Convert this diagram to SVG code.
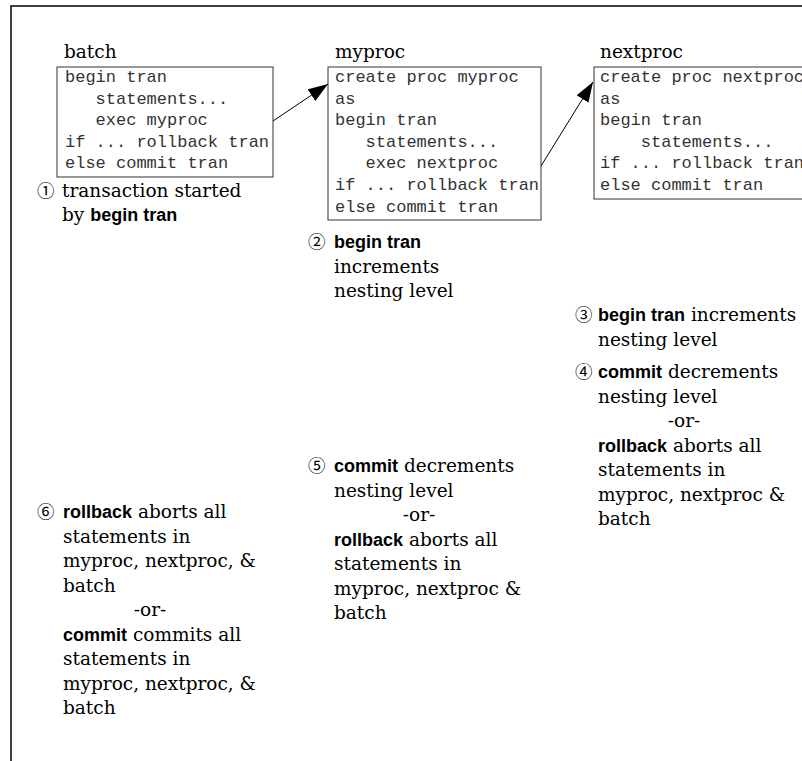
<svg xmlns="http://www.w3.org/2000/svg" width="802" height="761" viewBox="0 0 802 761">
<style>
.frame{fill:none;stroke:#000;stroke-width:1.5}
.box{fill:#fff;stroke:#333;stroke-width:1}
.title{font-family:"DejaVu Serif","Liberation Serif",serif;font-size:18.5px;fill:#000}
.code{font-family:"Liberation Mono","Courier New",monospace;font-size:17px;fill:#333;white-space:pre}
.note{font-family:"DejaVu Serif","Liberation Serif",serif;font-size:18.5px;fill:#000}
.kw{font-family:"Liberation Sans",sans-serif;font-weight:bold;font-size:18px}
.num{font-family:"Noto Sans CJK JP","DejaVu Sans",sans-serif;font-size:17.5px;fill:#000}
.conn{stroke:#000;stroke-width:1;fill:none}
</style>
<defs>
<marker id="ah" markerUnits="userSpaceOnUse" markerWidth="22" markerHeight="16" refX="20" refY="7" orient="auto">
<path d="M0,0 L20,7 L0,14 Z" fill="#000"/>
</marker>
</defs>
<rect width="802" height="761" fill="#fff"/>
<path class="frame" d="M11,761 V6 H802"/>

<g id="batch">
<text class="title" x="64" y="58">batch</text>
<rect class="box" x="57" y="67" width="216" height="110"/>
<text class="code" x="65" y="82">begin tran</text>
<text class="code" x="65" y="103.6">   statements...</text>
<text class="code" x="65" y="125.2">   exec myproc</text>
<text class="code" x="65" y="146.8">if ... rollback tran</text>
<text class="code" x="65" y="168.4">else commit tran</text>
</g>

<g id="myproc">
<text class="title" x="335" y="58">myproc</text>
<rect class="box" x="328" y="67" width="213" height="153"/>
<text class="code" x="335" y="82">create proc myproc</text>
<text class="code" x="335" y="103.6">as</text>
<text class="code" x="335" y="125.2">begin tran</text>
<text class="code" x="335" y="146.8">   statements...</text>
<text class="code" x="335" y="168.4">   exec nextproc</text>
<text class="code" x="335" y="190">if ... rollback tran</text>
<text class="code" x="335" y="211.6">else commit tran</text>
</g>

<g id="nextproc">
<text class="title" x="600" y="58">nextproc</text>
<rect class="box" x="594" y="67" width="220" height="132"/>
<text class="code" x="600" y="82">create proc nextproc</text>
<text class="code" x="600" y="103.6">as</text>
<text class="code" x="600" y="125.2">begin tran</text>
<text class="code" x="600" y="146.8">    statements...</text>
<text class="code" x="600" y="168.4">if ... rollback tran</text>
<text class="code" x="600" y="190">else commit tran</text>
</g>

<g id="connectors">
<line class="conn" x1="273" y1="121" x2="328" y2="84" marker-end="url(#ah)"/>
<line class="conn" x1="541" y1="166" x2="593" y2="82" marker-end="url(#ah)"/>
</g>

<g id="note1">
<text class="num" x="37" y="197">①</text>
<text class="note" x="62" y="197">transaction started</text>
<text class="note" x="62" y="221">by <tspan class="kw">begin tran</tspan></text>
</g>

<g id="note2">
<text class="num" x="308" y="248">②</text>
<text class="note" x="334" y="248"><tspan class="kw">begin tran</tspan></text>
<text class="note" x="334" y="272.5">increments</text>
<text class="note" x="334" y="297">nesting level</text>
</g>

<g id="note3">
<text class="num" x="575" y="321">③</text>
<text class="note" x="598" y="321"><tspan class="kw">begin tran</tspan> increments</text>
<text class="note" x="598" y="345.5">nesting level</text>
</g>

<g id="note4">
<text class="num" x="575" y="378">④</text>
<text class="note" x="598" y="378"><tspan class="kw">commit</tspan> decrements</text>
<text class="note" x="598" y="402.5">nesting level</text>
<text class="note" x="684" y="427" text-anchor="middle">-or-</text>
<text class="note" x="598" y="451.5"><tspan class="kw">rollback</tspan> aborts all</text>
<text class="note" x="598" y="476">statements in</text>
<text class="note" x="598" y="500.5">myproc, nextproc &amp;</text>
<text class="note" x="598" y="525">batch</text>
</g>

<g id="note5">
<text class="num" x="308" y="472">⑤</text>
<text class="note" x="334" y="472"><tspan class="kw">commit</tspan> decrements</text>
<text class="note" x="334" y="496.5">nesting level</text>
<text class="note" x="419" y="521" text-anchor="middle">-or-</text>
<text class="note" x="334" y="545.5"><tspan class="kw">rollback</tspan> aborts all</text>
<text class="note" x="334" y="570">statements in</text>
<text class="note" x="334" y="594.5">myproc, nextproc &amp;</text>
<text class="note" x="334" y="619">batch</text>
</g>

<g id="note6">
<text class="num" x="37" y="518">⑥</text>
<text class="note" x="63" y="518"><tspan class="kw">rollback</tspan> aborts all</text>
<text class="note" x="63" y="542.5">statements in</text>
<text class="note" x="63" y="567">myproc, nextproc, &amp;</text>
<text class="note" x="63" y="591.5">batch</text>
<text class="note" x="150" y="616" text-anchor="middle">-or-</text>
<text class="note" x="63" y="640.5"><tspan class="kw">commit</tspan> commits all</text>
<text class="note" x="63" y="665">statements in</text>
<text class="note" x="63" y="689.5">myproc, nextproc, &amp;</text>
<text class="note" x="63" y="714">batch</text>
</g>
</svg>
